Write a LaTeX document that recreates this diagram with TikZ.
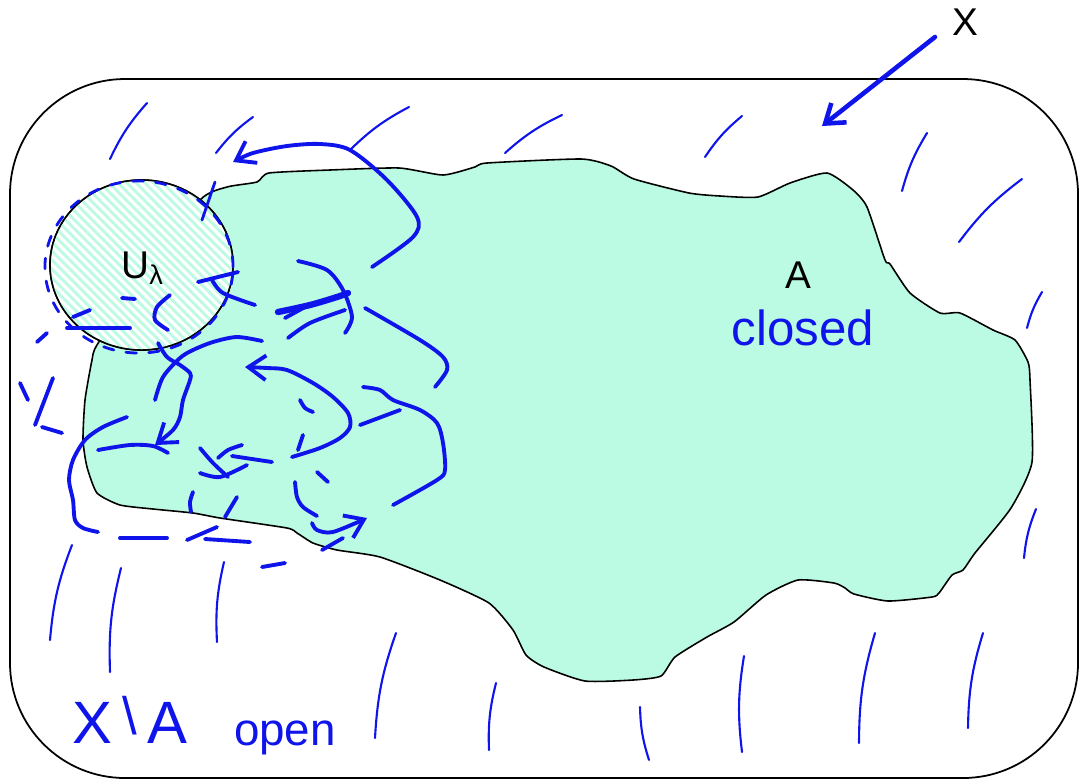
\documentclass[tikz,border=0pt]{standalone}
\usepackage{fontspec}
\setmainfont{Liberation Sans}
\usetikzlibrary{arrows.meta, patterns.meta}
\definecolor{mint}{RGB}{187,250,227}
\definecolor{pen}{RGB}{15,20,235}

\begin{document}
\begin{tikzpicture}[x=0.01cm, y=-0.01cm, >={Straight Barb[length=5pt, width=7pt]},
    hatch/.style={pen, line width=0.6pt, line cap=round},
    scrib/.style={pen, line width=1.1pt, line cap=round},
    lbl/.style={font=\fontsize{11}{13}\selectfont},
    hand/.style={text=pen, font=\fontsize{#1}{#1}\selectfont}]
    \useasboundingbox (0,0) rectangle (1079,781);
    \draw[line width=0.5pt, rounded corners=1.15cm] (10,79) rectangle (1078,778);

    \draw[fill=mint, line width=0.45pt] plot[smooth cycle, tension=0.35] coordinates {
        (200,200) (227,187) (257,182) (269,173) (330,170) (399,168) (443,175) (475,167)
        (487,163) (581,159) (611,166) (634,179) (689,193) (720,196) (758,197) (790,183)
        (827,173) (853,190) (867,207) (885,260) (890,264) (910,293) (940,313) (960,313)
        (993,330) (1015,340) (1028,362) (1030,380) (1032,462) (1011,508) (975,553) (963,570)
        (952,575) (939,593) (932,597) (888,601) (854,594) (845,588) (834,583) (798,580)
        (766,595) (734,622) (707,637) (675,657) (661,676) (633,680) (585,681) (544,667)
        (526,655) (513,630) (489,603) (440,580) (380,557) (337,550) (313,543) (297,533)
        (287,528) (220,518) (193,513) (153,509) (120,505) (97,493) (87,467) (83,440)
        (85,400) (92,360) (97,345) (140,280)};

    \draw[fill=white] (141.5,265) ellipse[x radius=0.915cm, y radius=0.85cm];
    \fill[pattern={Lines[angle=-45, distance=1.8pt, line width=0.8pt]}, pattern color=mint]
        (141.5,265) ellipse[x radius=0.915cm, y radius=0.85cm];
    \draw[line width=0.45pt] (141.5,265) ellipse[x radius=0.915cm, y radius=0.85cm];
    \draw[scrib, line width=0.8pt, dash pattern=on 3pt off 3.5pt] (139,267) ellipse[x radius=0.94cm, y radius=0.86cm];

    \foreach \a/\b/\c/\d in {110/159/147/103, 216/153/253/117, 351/149/409/107, 505/153/562/115,
        705/157/742/116, 902/191/927/133, 959/242/1022/179, 1027/328/1042/292, 1024/558/1036/509,
        649/760/640/707, 742/752/744/656, 859/743/875/633, 968/728/983/633, 375/738/396/633,
        489/750/496/683, 217/642/224/562, 110/672/121/568, 50/640/72/545}
        \draw[hatch] (\a,\b) to[bend left=8] (\c,\d);

    \draw[scrib, ->] plot[smooth] coordinates {(372,267) (413,237) (417,217) (387,180) (350,150)
        (320,144) (287,146) (253,153) (233,162)};
    \draw[scrib, line width=0.8pt] (202,220) -- (215,182);
    \draw[scrib] (198,282) -- (238,272);
    \draw[scrib] plot[smooth] coordinates {(212,280) (223,293) (255,305)};
    \draw[scrib] plot[smooth] coordinates {(170,295) (157,307) (155,320) (168,330)};
    \draw[scrib] (122,298) -- (135,299);
    \draw[scrib] plot[smooth] coordinates {(298,261) (327,270) (343,290) (352,317) (345,333)};
    \draw[scrib, line width=1.8pt] plot[smooth] coordinates {(278,312) (310,305) (337,297) (348,293)};
    \draw[scrib] (285,318) -- (305,307);
    \draw[scrib] plot[smooth] coordinates {(288,338) (310,323) (345,310)};
    \draw[scrib] plot[smooth] coordinates {(365,308) (420,340) (443,357) (447,370) (435,387)};
    \draw[scrib] plot[smooth] coordinates {(155,400) (163,377) (180,358) (193,350) (213,342)
        (237,337) (262,341)};
    \draw[scrib, ->] plot[smooth] coordinates {(158,343) (167,357) (180,365) (190,373) (190,380)
        (183,400) (180,417) (173,430) (155,445)};
    \draw[scrib] plot[smooth] coordinates {(98,450) (130,445) (153,446) (168,453)};
    \draw[scrib] plot[smooth] coordinates {(127,417) (103,427) (85,440) (73,460) (69,480)
        (73,500) (75,520) (83,528) (98,532)};
    \foreach \a/\b/\c/\d in {120/538/167/538, 187/540/217/527, 205/539/250/542, 262/567/285/563,
        322/550/343/538, 20/383/28/400, 53/378/35/425, 42/427/62/433, 37/342/47/333,
        67/328/130/328, 73/317/90/310, 360/425/400/410, 232/456/272/462, 303/435/298/450,
        317/472/328/482, 237/497/225/517}
        \draw[scrib] (\a,\b) -- (\c,\d);
    \draw[scrib, ->] plot[smooth] coordinates {(292,457) (320,448) (340,438) (350,427) (348,413)
        (333,397) (313,383) (287,370) (267,368) (245,367)};
    \draw[scrib] plot[smooth] coordinates {(363,387) (380,390) (393,400) (420,410) (437,423)
        (443,443) (445,470) (437,480) (393,505)};
    \draw[scrib] plot[smooth] coordinates {(200,448) (213,463) (228,477)};
    \draw[scrib] plot[smooth] coordinates {(200,473) (220,477) (247,465)};
    \draw[scrib] plot[smooth] coordinates {(218,458) (228,450) (242,445)};
    \draw[scrib] plot[smooth] coordinates {(300,400) (305,408) (313,412)};
    \draw[scrib] plot[smooth] coordinates {(295,482) (297,497) (303,507) (317,516)};
    \draw[scrib, ->] plot[smooth] coordinates {(312,523) (317,530) (333,532) (367,518)};
    \draw[scrib] plot[smooth] coordinates {(193,492) (190,502) (191,512)};

    \node[lbl] (X) at (965,22) {X};
    \coordinate (Xtip) at (822,126);
    \draw[scrib, line width=1.3pt, ->] (X) ++(-30,15) -- (Xtip);
    \node[lbl] (A) at (798,275) {A};
    \node[hand=14] (closed) at (803,328) {closed};
    \node[lbl] (U) at (143,268) {U\textsubscript{λ}};
    \node[hand=17] (XA) at (130,720) {X\,{\fontsize{15}{15}\selectfont\raisebox{0.3ex}{\textbackslash}}\,A};
    \node[hand=13] (open) at (285,738) {open};
\end{tikzpicture}
\end{document}
